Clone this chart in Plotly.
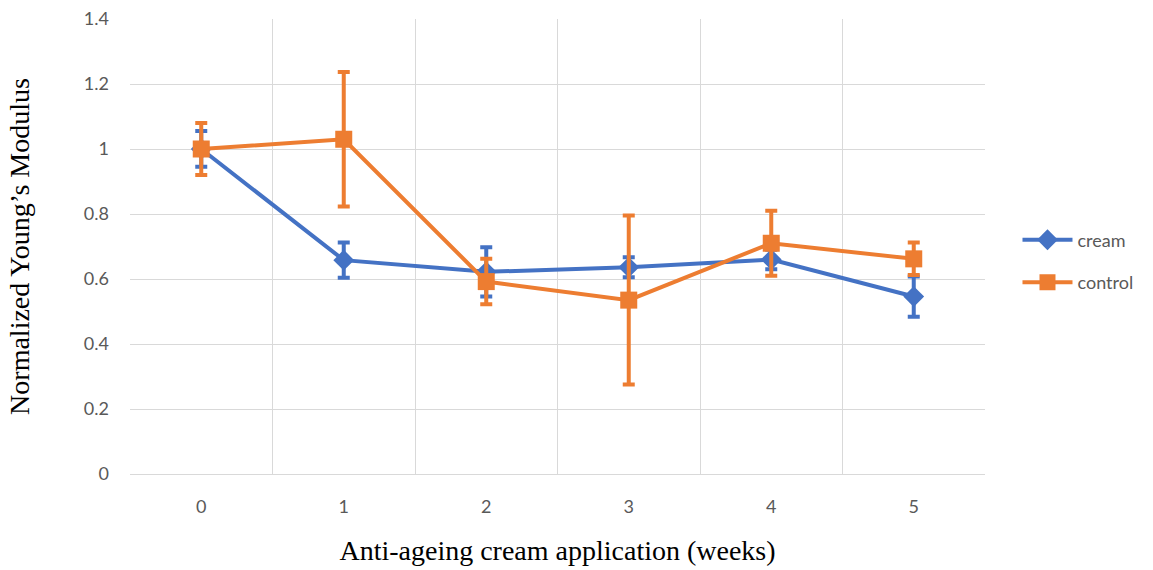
import plotly.graph_objects as go

weeks = [0, 1, 2, 3, 4, 5]
week_labels = ["0", "1", "2", "3", "4", "5"]

cream = [1.0, 0.658, 0.622, 0.636, 0.66, 0.546]
cream_err = [0.055, 0.054, 0.076, 0.031, 0.03, 0.062]

control = [1.0, 1.03, 0.592, 0.535, 0.71, 0.662]
control_err = [0.08, 0.207, 0.07, 0.26, 0.1, 0.05]

BLUE = "#4472C4"
ORANGE = "#ED7D31"
GRID = "#D9D9D9"
TICK = "#595959"
SANS = "Lato"
SERIF = "Liberation Serif"

fig = go.Figure()

fig.add_trace(go.Scatter(
    x=weeks, y=cream, name="cream", mode="lines+markers", legendgroup="a",
    line=dict(color=BLUE, width=4),
    marker=dict(symbol="diamond", size=16, color=BLUE),
    error_y=dict(type="data", array=cream_err, visible=True,
                 color=BLUE, thickness=4, width=6),
))
fig.add_trace(go.Scatter(
    x=weeks, y=control, name="control", mode="lines+markers", legendgroup="b",
    line=dict(color=ORANGE, width=4),
    marker=dict(symbol="square", size=17, color=ORANGE),
    error_y=dict(type="data", array=control_err, visible=True,
                 color=ORANGE, thickness=4, width=6),
))

fig.update_layout(
    width=1153, height=570,
    margin=dict(l=130, r=168, t=19, b=96),
    paper_bgcolor="white", plot_bgcolor="white",
    font=dict(family=SANS, color=TICK, size=18),
    legend=dict(x=1.038, y=0.468, xanchor="left", yanchor="middle",
                font=dict(family=SANS, size=18, color=TICK),
                tracegroupgap=16, traceorder="grouped",
                itemwidth=50),
    showlegend=True,
)

fig.update_xaxes(
    range=[-0.5, 5.5], tickvals=weeks, ticktext=week_labels,
    showgrid=False, zeroline=False, automargin=False,
    showline=True, linecolor=GRID, linewidth=1,
    ticks="", ticklabelstandoff=16,
    tickfont=dict(family=SANS, size=18, color=TICK),
    minor=dict(tick0=-0.5, dtick=1, showgrid=True, gridcolor=GRID, gridwidth=1),
    title=dict(text="Anti-ageing cream application (weeks)",
               font=dict(family=SERIF, size=28, color="black"),
               standoff=24),
)
fig.update_yaxes(
    range=[0, 1.4], tickvals=[0, 0.2, 0.4, 0.6, 0.8, 1.0, 1.2, 1.4],
    ticktext=["0", "0.2", "0.4", "0.6", "0.8", "1", "1.2", "1.4"],
    showgrid=True, gridcolor=GRID, gridwidth=1, zeroline=False, automargin=False,
    showline=False, ticks="", ticklabelstandoff=20,
    tickfont=dict(family=SANS, size=18, color=TICK),
    title=dict(text="Normalized Young’s Modulus",
               font=dict(family=SERIF, size=28, color="black"),
               standoff=46),
)

fig.write_html("out.html")
